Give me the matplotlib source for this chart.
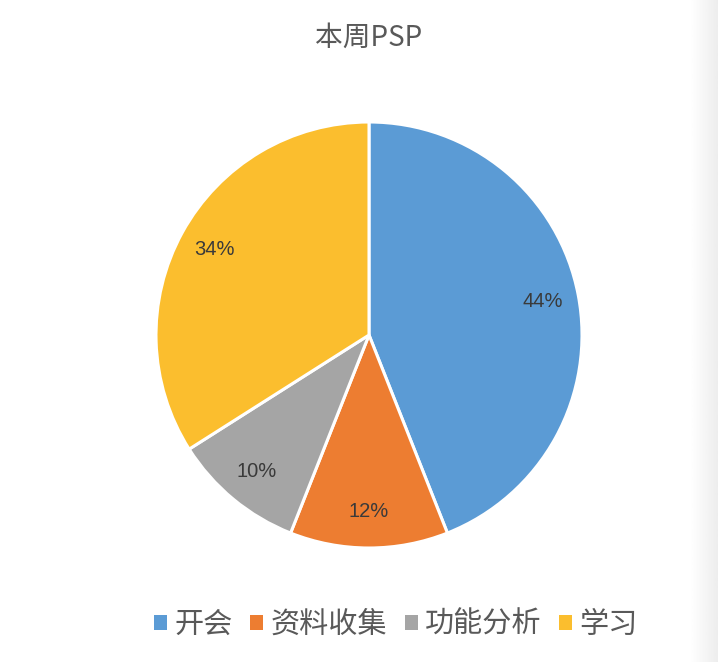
import numpy as np
import matplotlib
matplotlib.use("Agg")
import matplotlib.pyplot as plt

plt.rcParams['font.family'] = ['Noto Sans CJK SC', 'DejaVu Sans']

title = "本周PSP"
labels = ["开会", "资料收集", "功能分析", "学习"]
values = [44, 12, 10, 34]
colors = ["#5B9BD5", "#ED7D31", "#A5A5A5", "#FBBE2E"]

W, H = 718, 662
fig = plt.figure(figsize=(W / 100, H / 100), dpi=100)

# light gray strip on the right edge (screenshot artefact)
bg = fig.add_axes([690 / W, 0, 28 / W, 1])
grad = np.linspace(1.0, 0.93, 50).reshape(1, -1)
bg.imshow(grad, cmap="gray", vmin=0, vmax=1, aspect="auto", extent=[0, 1, 0, 1])
bg.axis("off")

# pie: center (369,335) px, radius 213 px
cx, cy, r = 369, 335, 213
ax = fig.add_axes([(cx - r) / W, (H - cy - r) / H, 2 * r / W, 2 * r / H])
wedges, texts, autotexts = ax.pie(
    values, colors=colors, startangle=90, counterclock=False,
    autopct="%d%%", pctdistance=0.83,
    wedgeprops=dict(edgecolor="white", linewidth=2.2),
    textprops=dict(color="#3A3A3A", fontsize=14.5, family="Liberation Sans"))
ax.set_xlim(-1, 1)
ax.set_ylim(-1, 1)
ax.set_aspect("equal")

fig.text(cx / W, 1 - 38 / H, title, ha="center", va="center",
         fontsize=20, color="#595959")

leg = fig.legend(wedges, labels, loc="center", bbox_to_anchor=(396 / W, 1 - 625 / H),
                 ncol=4, frameon=False, fontsize=21, handlelength=0.45, handleheight=0.45,
                 handletextpad=0.25, columnspacing=0.6, labelcolor="#595959")
for h in leg.legend_handles:
    h.set_edgecolor("none")

fig.savefig("out.png", dpi=100)
